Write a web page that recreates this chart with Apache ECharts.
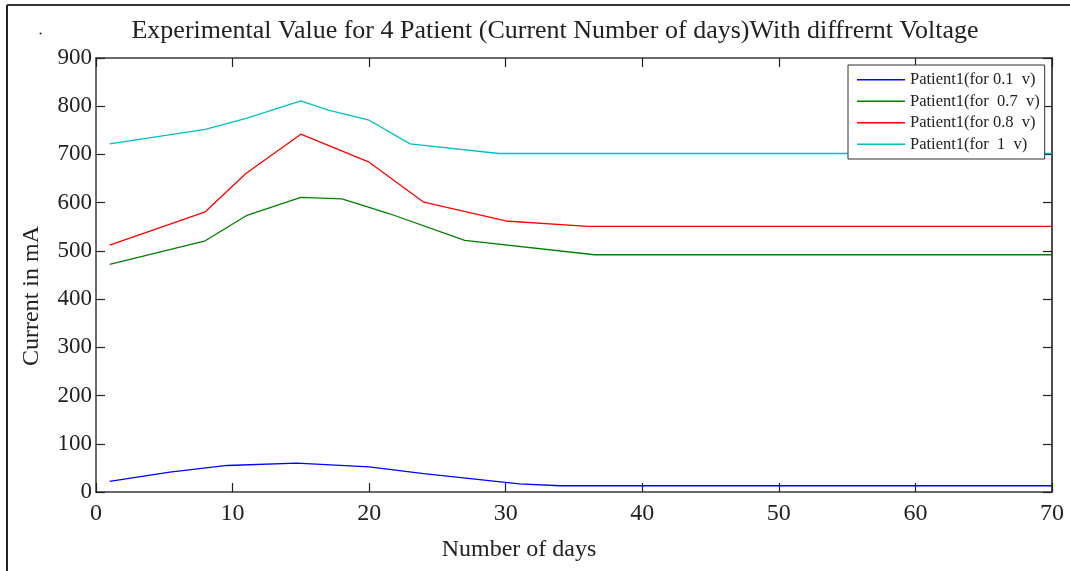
<!DOCTYPE html>
<html>
<head>
<meta charset="utf-8">
<script src="https://cdn.jsdelivr.net/npm/echarts@6/dist/echarts.min.js"></script>
<style>
html,body{margin:0;padding:0;background:#fff;}
#chart{width:1070px;height:571px;}
</style>
</head>
<body>
<div id="chart"></div>
<script>
// ---- data ----
var seriesNames = ["Patient1(for 0.1  v)", "Patient1(for  0.7  v)", "Patient1(for 0.8  v)", "Patient1(for  1  v)"];
var seriesColors = ["#0000FF", "#008000", "#FF0000", "#00BFBF"];

var daysBlue = [1, 5.4, 9.6, 14.7, 20, 24, 31, 34, 70];
var valsBlue = [22, 41, 55, 60, 52, 38, 17, 13, 13];

var daysGreen = [1, 8, 11, 15, 18, 20, 21.5, 27, 36.5, 70];
var valsGreen = [472, 521, 573, 611, 608, 590, 577, 522, 492, 492];

var daysRed = [1, 8, 11, 15, 20, 24, 30, 36, 70];
var valsRed = [512, 581, 661, 742, 684, 601, 562, 551, 551];

var daysCyan = [1, 8, 11, 15, 17, 20, 23, 29.5, 70];
var valsCyan = [722, 752, 775, 811, 792, 771, 722, 702, 702];

var xTicks = [0, 10, 20, 30, 40, 50, 60, 70];
var yTicks = [0, 100, 200, 300, 400, 500, 600, 700, 800, 900];

function pairs(xs, ys) { return xs.map(function (x, i) { return [x, ys[i]]; }); }

var allDays = [daysBlue, daysGreen, daysRed, daysCyan];
var allVals = [valsBlue, valsGreen, valsRed, valsCyan];

var FONT = "Liberation Serif";
var axisColor = "#3a3a3a";

var chart = echarts.init(document.getElementById('chart'), null, {renderer: 'canvas'});

var series = seriesNames.map(function (name, i) {
  return {
    name: name,
    type: 'line',
    xAxisIndex: 0,
    yAxisIndex: 0,
    symbol: 'none',
    data: pairs(allDays[i], allVals[i]),
    lineStyle: {color: seriesColors[i], width: 1.3},
    itemStyle: {color: seriesColors[i]},
    z: 3
  };
});

var option = {
  animation: false,
  backgroundColor: '#fff',
  title: {
    text: 'Experimental Value for 4 Patient (Current Number of days)With diffrernt Voltage',
    left: 550,
    textAlign: 'center',
    top: 13,
    textStyle: {fontFamily: FONT, fontSize: 26, fontWeight: 'normal', color: '#222'}
  },
  legend: {
    orient: 'vertical',
    left: 848,
    top: 65,
    backgroundColor: '#fff',
    borderColor: '#333',
    borderWidth: 1,
    padding: [4, 5, 4, 9],
    icon: 'rect',
    itemWidth: 48,
    itemHeight: 1.5,
    itemGap: 0,
    z: 20,
    textStyle: {fontFamily: FONT, fontSize: 16.5, color: '#222', lineHeight: 21.5},
    data: seriesNames
  },
  grid: {left: 96, right: 18, top: 58, bottom: 79, containLabel: false},
  xAxis: [{
    type: 'value', min: 0, max: 70, interval: 10, position: 'bottom',
    name: 'Number of days', nameLocation: 'middle', nameGap: 46,
    nameTextStyle: {fontFamily: FONT, fontSize: 24, color: '#222', padding: [0, 110, 0, 0]},
    axisLine: {show: true, onZero: false, lineStyle: {color: axisColor, width: 1.5}},
    axisTick: {show: true, inside: true, length: 9, lineStyle: {color: '#222', width: 1.2}},
    axisLabel: {fontFamily: FONT, fontSize: 24, color: '#222', margin: 10,
      formatter: function (v) { return xTicks.indexOf(v) >= 0 ? String(v) : ''; }},
    splitLine: {show: false}
  }, {
    type: 'value', min: 0, max: 70, interval: 10, position: 'top',
    axisLine: {show: true, onZero: false, lineStyle: {color: axisColor, width: 1.5}},
    axisTick: {show: true, inside: true, length: 9, lineStyle: {color: '#222', width: 1.2}},
    axisLabel: {show: false},
    splitLine: {show: false}
  }],
  yAxis: [{
    type: 'value', min: 0, max: 900, interval: 100, position: 'left',
    name: 'Current in mA', nameLocation: 'middle', nameGap: 52, nameRotate: 90,
    nameTextStyle: {fontFamily: FONT, fontSize: 24, color: '#222', padding: [0, 42, 0, 0]},
    axisLine: {show: true, onZero: false, lineStyle: {color: axisColor, width: 1.5}},
    axisTick: {show: true, inside: true, length: 9, lineStyle: {color: '#222', width: 1.2}},
    axisLabel: {fontFamily: FONT, fontSize: 23, color: '#222', margin: 4,
      formatter: function (v) { return yTicks.indexOf(v) >= 0 ? String(v) : ''; }},
    splitLine: {show: false}
  }, {
    type: 'value', min: 0, max: 900, interval: 100, position: 'right',
    axisLine: {show: true, onZero: false, lineStyle: {color: '#111', width: 1.5}},
    axisTick: {show: true, inside: true, length: 9, lineStyle: {color: '#222', width: 1.2}},
    axisLabel: {show: false},
    splitLine: {show: false}
  }],
  graphic: [
    {type: 'line', shape: {x1: 7, y1: 5, x2: 7, y2: 571}, style: {stroke: '#222', lineWidth: 2}, z: 50},
    {type: 'line', shape: {x1: 7, y1: 5, x2: 1070, y2: 5}, style: {stroke: '#333', lineWidth: 2}, z: 50},
    {type: 'circle', shape: {cx: 40.5, cy: 33.5, r: 1}, style: {fill: '#222'}, z: 50}
  ],
  series: series
};

chart.setOption(option);
</script>
</body>
</html>
